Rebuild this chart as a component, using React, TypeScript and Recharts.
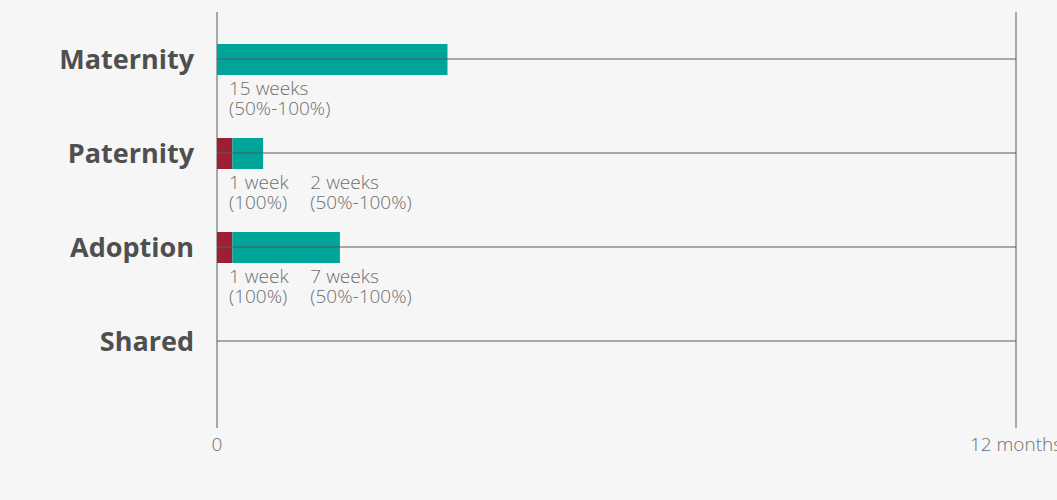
import React from 'react';
import { BarChart, Bar, XAxis, YAxis, CartesianGrid, ReferenceLine, LabelList } from 'recharts';

const categories = ['Maternity', 'Paternity', 'Adoption', 'Shared'];
// weeks paid at 100%
const fullPayWeeks = [0, 1, 1, 0];
// weeks paid at 50%-100%
const partialPayWeeks = [15, 2, 7, 0];
const fullPayLabel = ['(100%)', '(100%)', '(100%)', ''];
const partialPayLabel = ['(50%-100%)', '(50%-100%)', '(50%-100%)', ''];
const xTicks = [0, 52];
const xTickLabels = ['0', '12 months'];

const data = categories.map((name, i) => ({
  name,
  full: fullPayWeeks[i],
  partial: partialPayWeeks[i],
}));

const TEAL = '#00a599';
const RED = '#9c1f36';
const LINE = '#5a5a5a';
const LABEL = '#6e6e6e';

const weeksText = (n: number) => (n === 1 ? '1 week' : `${n} weeks`);

const makeLabel = (kind: 'full' | 'partial') => (props: any) => {
  const { x, y, height, index, value } = props;
  if (!value) return null;
  const hasFull = fullPayWeeks[index] > 0;
  const lx = kind === 'full' ? x + 12 : x + (hasFull ? 78 : 12);
  const sub = kind === 'full' ? fullPayLabel[index] : partialPayLabel[index];
  const top = y + height + 20;
  return (
    <text
      x={lx}
      y={top}
      fill={LABEL}
      fontFamily="'Open Sans', sans-serif"
      fontWeight={300}
      fontSize={19}
    >
      <tspan x={lx} y={top}>{weeksText(value)}</tspan>
      <tspan x={lx} y={top + 20}>{sub}</tspan>
    </text>
  );
};

const App: React.FC = () => {
  return (
    <div style={{ position: 'absolute', left: 0, top: 0, width: 1057, height: 500, background: '#f6f6f6', overflow: 'hidden' }}>
      <BarChart
        width={1057}
        height={500}
        data={data}
        layout="vertical"
        margin={{ top: 12, right: 41, bottom: 42, left: 0 }}
        barSize={31}
      >
        <CartesianGrid horizontal={false} stroke={LINE} strokeWidth={1} />
        <XAxis
          type="number"
          domain={[0, 52]}
          ticks={xTicks}
          tickFormatter={(v: number) => xTickLabels[xTicks.indexOf(v)]}
          axisLine={false}
          tickLine={false}
          tickSize={0}
          tickMargin={10}
          height={30}
          interval={0}
          tick={{ fill: LABEL, fontFamily: "'Open Sans', sans-serif", fontWeight: 300, fontSize: 19 }}
        />
        <YAxis
          type="category"
          dataKey="name"
          width={217}
          padding={{ top: 0, bottom: 40 }}
          axisLine={false}
          tickLine={false}
          tickSize={0}
          tickMargin={23}
          interval={0}
          tick={{ fill: '#4f4f4f', fontFamily: "'Open Sans', sans-serif", fontWeight: 700, fontSize: 27 }}
        />
        {categories.map((c) => (
          <ReferenceLine key={c} y={c} stroke={LINE} strokeWidth={1} />
        ))}
        <Bar dataKey="full" stackId="a" fill={RED} isAnimationActive={false}>
          <LabelList dataKey="full" content={makeLabel('full')} />
        </Bar>
        <Bar dataKey="partial" stackId="a" fill={TEAL} isAnimationActive={false}>
          <LabelList dataKey="partial" content={makeLabel('partial')} />
        </Bar>
      </BarChart>
    </div>
  );
};

export default App;
